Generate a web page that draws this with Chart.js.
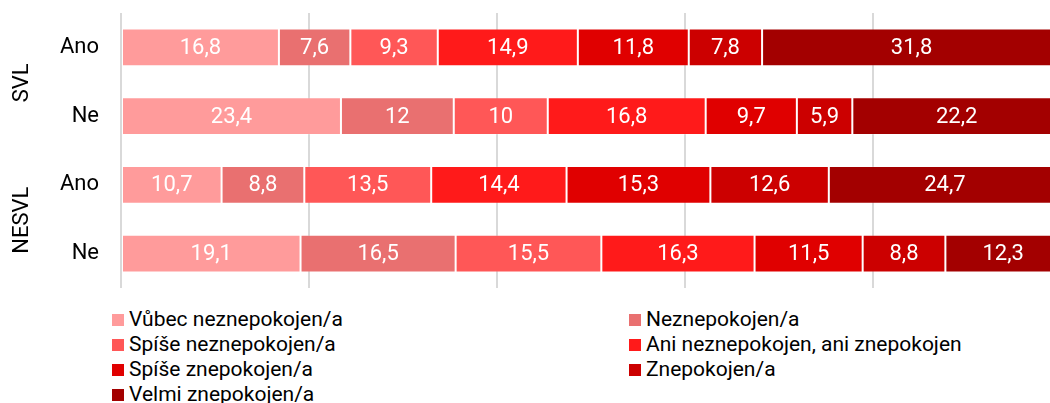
<!DOCTYPE html>
<html>
<head>
<meta charset="utf-8">
<script src="https://cdn.jsdelivr.net/npm/chart.js@4/dist/chart.umd.min.js"></script>
<style>
  body { margin: 0; width: 1050px; height: 403px; overflow: hidden; background: #fff; font-family: Roboto, sans-serif; }
  #wrap { position: relative; width: 1062px; height: 290px; }
  #legend { position: absolute; left: 112px; top: 307px; width: 1000px; display: grid; grid-template-columns: 517px 400px; font-size: 21px; line-height: 25px; color: #000; }
  .item { display: flex; align-items: center; white-space: nowrap; }
  .box { width: 12px; height: 12px; margin-right: 5px; flex: none; }
</style>
</head>
<body>
<div id="wrap"><canvas id="chart" width="1062" height="290"></canvas></div>
<div id="legend"></div>
<script>
// categories (bars) and their group
const rowLabels = ['Ano', 'Ne', 'Ano', 'Ne'];
const groupLabels = ['SVL', 'NESVL'];

// series names and colours
const seriesNames = [
  'Vůbec neznepokojen/a',
  'Neznepokojen/a',
  'Spíše neznepokojen/a',
  'Ani neznepokojen, ani znepokojen',
  'Spíše znepokojen/a',
  'Znepokojen/a',
  'Velmi znepokojen/a'
];
const seriesColors = ['#ff9b9b', '#e97070', '#ff5757', '#ff1a1a', '#e00000', '#cc0000', '#a30000'];

// values per series, in order: SVL Ano, SVL Ne, NESVL Ano, NESVL Ne
const vubecNez = [16.8, 23.4, 10.7, 19.1];
const nez = [7.6, 12, 8.8, 16.5];
const spiseNez = [9.3, 10, 13.5, 15.5];
const ani = [14.9, 16.8, 14.4, 16.3];
const spiseZnep = [11.8, 9.7, 15.3, 11.5];
const znep = [7.8, 5.9, 12.6, 8.8];
const velmiZnep = [31.8, 22.2, 24.7, 12.3];

const seriesValues = [vubecNez, nez, spiseNez, ani, spiseZnep, znep, velmiZnep];

// draws the value in the middle of each segment
const valueLabels = {
  id: 'valueLabels',
  afterDatasetsDraw(chart) {
    const ctx = chart.ctx;
    ctx.save();
    ctx.font = '22px Roboto';
    ctx.fillStyle = '#fff';
    ctx.textAlign = 'center';
    ctx.textBaseline = 'middle';
    chart.data.datasets.forEach((ds, i) => {
      chart.getDatasetMeta(i).data.forEach((bar, j) => {
        const p = bar.getCenterPoint();
        ctx.fillText(String(ds.data[j]).replace('.', ','), p.x, p.y + 1);
      });
    });
    ctx.restore();
  }
};

// rotated group names left of the row labels
const groupNames = {
  id: 'groupNames',
  afterDraw(chart) {
    const ctx = chart.ctx;
    const y = chart.scales.y;
    ctx.save();
    ctx.font = '22px Roboto';
    ctx.fillStyle = '#000';
    ctx.textAlign = 'center';
    ctx.textBaseline = 'middle';
    groupLabels.forEach((name, g) => {
      const mid = (y.getPixelForValue(g * 2) + y.getPixelForValue(g * 2 + 1)) / 2;
      ctx.save();
      ctx.translate(22, mid + 1);
      ctx.rotate(-Math.PI / 2);
      ctx.fillText(name, 0, 0);
      ctx.restore();
    });
    ctx.restore();
  }
};

const datasets = seriesNames.map((name, i) => ({
  label: name,
  data: seriesValues[i],
  backgroundColor: seriesColors[i],
  borderColor: 'rgba(255,255,255,0.18)',
  borderWidth: 1,
  borderSkipped: false,
  barPercentage: 0.55,
  categoryPercentage: 1
}));

const chart = new Chart(document.getElementById('chart'), {
  type: 'bar',
  data: { labels: rowLabels, datasets: datasets },
  options: {
    indexAxis: 'y',
    responsive: false,
    animation: false,
    layout: { padding: { top: 13, bottom: 2, right: 1, left: 0 } },
    plugins: { legend: { display: false }, tooltip: { enabled: false } },
    scales: {
      x: {
        stacked: true,
        min: 0,
        max: 100,
        ticks: { display: false, stepSize: 20 },
        grid: { color: '#d9d9d9', lineWidth: 2, drawTicks: false },
        border: { display: false }
      },
      y: {
        stacked: true,
        ticks: { color: '#000', font: { family: 'Roboto', size: 22 }, padding: 22 },
        grid: { display: false, drawTicks: false },
        border: { display: false },
        // fixed width, and no extra room above/below for the labels
        afterFit: scale => {
          scale.width = 121;
          scale.paddingTop = 0;
          scale.paddingBottom = 0;
        }
      }
    }
  },
  plugins: [valueLabels, groupNames]
});

// legend in two columns
const legend = document.getElementById('legend');
seriesNames.forEach((name, i) => {
  const item = document.createElement('div');
  item.className = 'item';
  item.innerHTML = `<span class="box" style="background:${seriesColors[i]}"></span>${name}`;
  legend.appendChild(item);
});
</script>
</body>
</html>
